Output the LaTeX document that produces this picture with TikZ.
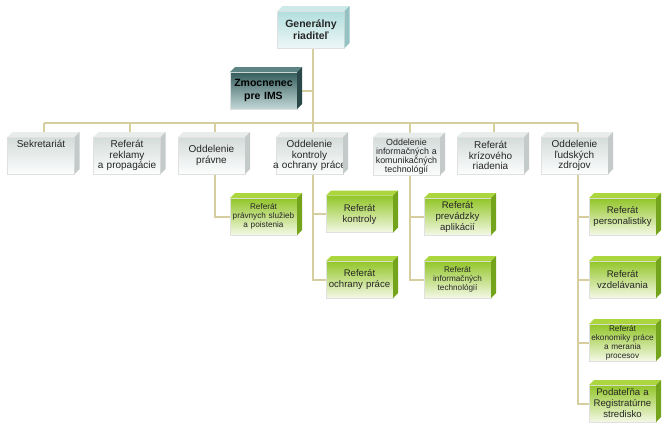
\documentclass[tikz,border=0pt]{standalone}
\usepackage{fontspec}
\setmainfont{Liberation Sans}
\usetikzlibrary{calc, backgrounds}

\definecolor{linkc}{RGB}{214,206,158}
\definecolor{grayTop}{RGB}{212,220,218}
\definecolor{grayBot}{RGB}{252,253,253}
\definecolor{grayFace}{RGB}{232,236,235}
\definecolor{graySide}{RGB}{196,202,202}
\definecolor{tealTop}{RGB}{178,222,222}
\definecolor{tealBot}{RGB}{238,247,247}
\definecolor{tealFace}{RGB}{205,233,233}
\definecolor{tealSide}{RGB}{148,194,194}
\definecolor{darkTop}{RGB}{52,92,92}
\definecolor{darkBot}{RGB}{196,216,216}
\definecolor{darkFace}{RGB}{92,132,132}
\definecolor{darkSide}{RGB}{42,72,72}
\definecolor{greenTop}{RGB}{146,198,40}
\definecolor{greenBot}{RGB}{244,248,230}
\definecolor{greenFace}{RGB}{172,214,62}
\definecolor{greenSide}{RGB}{116,164,28}

% front face + top face + side face of a "block"
\newcommand{\slab}[3]{%
    \fill[#2] (#1.north west) -- ++(5,-5) -- ($(#1.north east)+(5,-5)$) -- (#1.north east) -- cycle;
    \fill[#3] (#1.north east) -- ++(5,-5) -- ($(#1.south east)+(5,-5)$) -- (#1.south east) -- cycle;
}

\begin{document}
\begin{tikzpicture}[
        x=1pt, y=-1pt,
        box/.style={draw=black!12, line width=0.4pt, minimum height=37pt,
            text width=77pt, inner xsep=-5pt, inner ysep=1pt, align=center,
            outer sep=0pt, text=black!85, font=\fontsize{10}{10.8}\selectfont},
        unit/.style={box, top color=grayTop, bottom color=grayBot},
        head/.style={box, top color=tealTop, bottom color=tealBot,
            font=\bfseries\fontsize{10.5}{12.5}\selectfont},
        ims/.style={box, top color=darkTop, bottom color=darkBot, text=black,
            font=\bfseries\fontsize{10.5}{12.5}\selectfont},
        sub/.style={box, top color=greenTop, bottom color=greenBot,
            font=\fontsize{9.6}{11}\selectfont},
        small/.style={font=\fontsize{8.2}{9}\selectfont},
        link/.style={draw=linkc, line width=2pt}
    ]
        \useasboundingbox (0,0) rectangle (670,431);

        % === 1. TOP ===
        \node[head] (gr) at (311,29.5) {Generálny\\ riaditeľ};
        \node[ims]  (zm) at (263.5,90.5) {Zmocnenec\\ pre IMS};

        % === 2. FIRST LEVEL ===
        \coordinate (bus) at (0,123);
        \node[unit, text depth=24pt] (r1) at (41,155.5) {Sekretariát};
        \node[unit] (r2) at (127,155.5) {Referát\\ reklamy\\ a propagácie};
        \node[unit] (r3) at (211.5,155.5) {Oddelenie\\ právne};
        \node[unit] (r4) at (309.5,155.5) {Oddelenie\\ kontroly\\ a ochrany práce};
        \node[unit, font=\fontsize{8.9}{9.2}\selectfont] (r5) at (406.5,156.5) {Oddelenie\\ informačných a\\ komunikačných\\ technológií};
        \node[unit] (r6) at (490.5,155.5) {Referát\\ krízového\\ riadenia};
        \node[unit] (r7) at (574.5,155.5) {Oddelenie\\ ľudských\\ zdrojov};

        % === 3. SECOND LEVEL ===
        \node[sub, small] (s1) at (263.5,216.5) {Referát\\ právnych služieb\\ a poistenia};
        \node[sub] (k1) at (359.5,214) {Referát\\ kontroly\\[4pt]};
        \node[sub] (k2) at (359.5,279.5) {Referát\\ ochrany práce\\[4pt]};
        \node[sub] (i1) at (457.5,216.5) {Referát\\ prevádzky\\ aplikácií};
        \node[sub, small] (i2) at (457.5,279.5) {Referát\\ informačných\\ technológií};
        \node[sub] (l1) at (622.5,216.5) {Referát\\ personalistiky};
        \node[sub] (l2) at (622.5,279.5) {Referát\\ vzdelávania};
        \node[sub, small] (l3) at (622.5,342.5) {Referát\\ ekonomiky práce\\ a merania\\ procesov};
        \node[sub] (l4) at (622.5,403.5) {Podateľňa a\\ Registratúrne\\ stredisko};

        % 3D faces
        \slab{gr}{tealFace}{tealSide}
        \slab{zm}{darkFace}{darkSide}
        \foreach \n in {r1,r2,r3,r4,r5,r6,r7}
            {\slab{\n}{grayFace}{graySide}}
        \foreach \n in {s1,k1,k2,i1,i2,l1,l2,l3,l4}
            {\slab{\n}{greenFace}{greenSide}}

        % === 4. CONNECTORS ===
        \begin{scope}[on background layer]
            \coordinate (gtop) at ($(gr.south)+(2,0)$);
            \draw[link] (gtop) -- (gtop |- bus);
            \draw[link] (zm.east) -- (zm.east -| gtop);
            \coordinate (busL) at ($(r1.north)+(3,0)$);
            \coordinate (busR) at ($(r7.north)+(3,0)$);
            \draw[link] (busL |- bus) -- (busR |- bus);
            \foreach \n in {r1,r2,r3,r4,r5,r6,r7}
                {\draw[link] ($(\n.north)+(3,0)$) coordinate (t) -- (t |- bus);}
            \draw[link] ($(r3.south)+(3,0)$) |- (s1.west);
            \draw[link] ($(r4.south)+(3,0)$) |- (k1.west);
            \draw[link] ($(r4.south)+(3,0)$) |- (k2.west);
            \draw[link] ($(r5.south)+(3,0)$) |- (i1.west);
            \draw[link] ($(r5.south)+(3,0)$) |- (i2.west);
            \foreach \n in {l1,l2,l3,l4}
                {\draw[link] ($(r7.south)+(3,0)$) |- (\n.west);}
        \end{scope}

    \end{tikzpicture}
\end{document}
